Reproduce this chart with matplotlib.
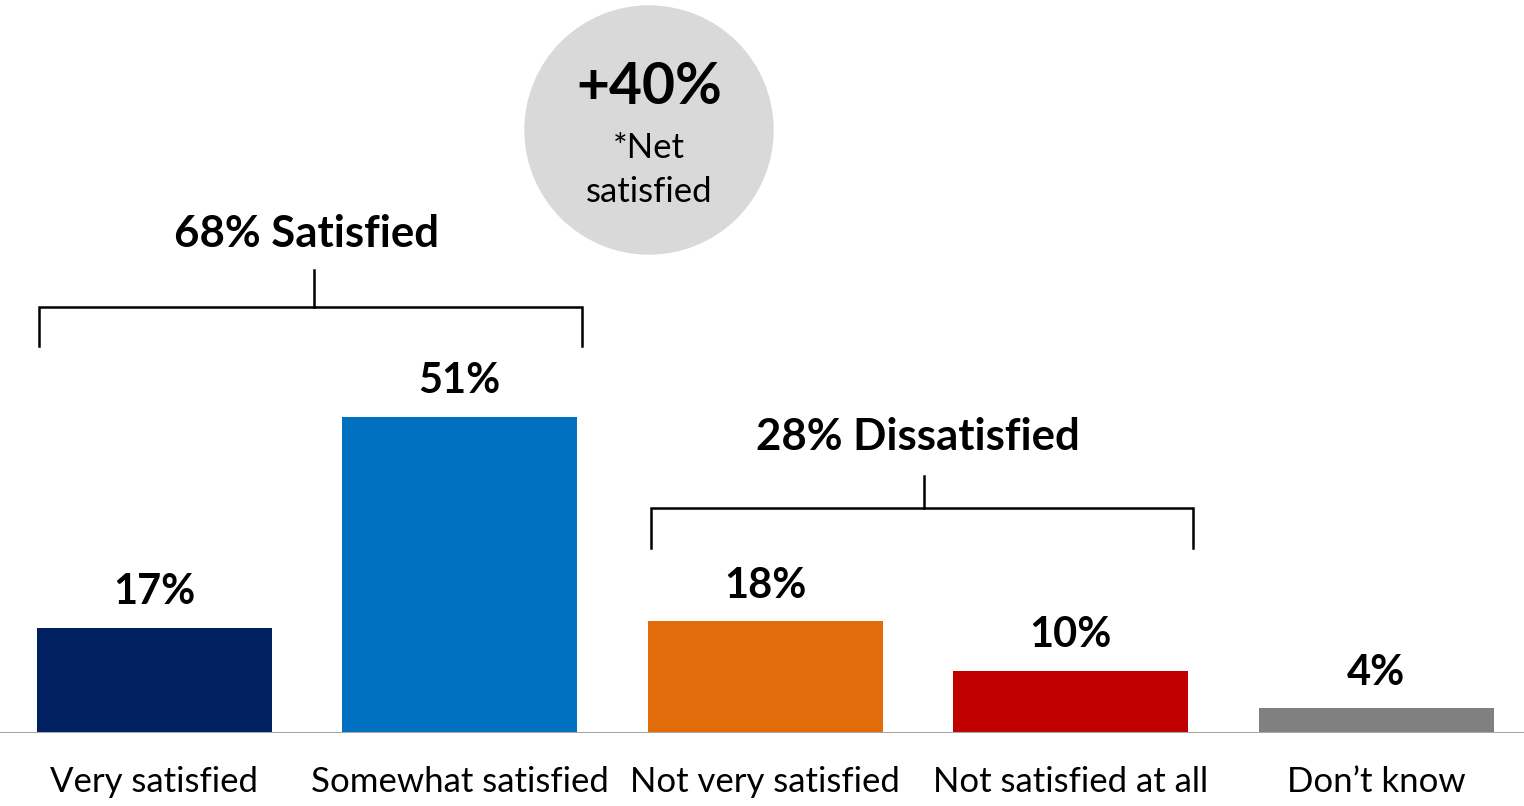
import matplotlib
matplotlib.use("Agg")
import matplotlib.pyplot as plt
from matplotlib.patches import Ellipse

categories = ["Very satisfied", "Somewhat satisfied", "Not very satisfied", "Not satisfied at all", "Don\u2019t know"]
values = [17, 51, 18, 10, 4]
value_labels = ["17%", "51%", "18%", "10%", "4%"]
colors = ["#002060", "#0070C0", "#E36C0A", "#C00000", "#808080"]
satisfied_label = "68% Satisfied"
dissatisfied_label = "28% Dissatisfied"
net_value = "+40%"
net_text = "*Net\nsatisfied"

plt.rcParams['font.family'] = ['Lato', 'DejaVu Sans']

W, H = 1524, 806
fig = plt.figure(figsize=(W/100, H/100), dpi=100)
base_px = 733
ax = fig.add_axes([0, (H - base_px)/H, 1, base_px/H])
ppu = 6.2  # px per percent
step = 305.5
x0 = 154
ax.set_xlim(-x0/step, (W - x0)/step)
ax.set_ylim(0, base_px/ppu)
ax.axis('off')

def px2x(px):
    return (px - x0)/step

def py2y(py):
    return (base_px - py)/ppu

xs = list(range(len(categories)))
ax.bar(xs, values, width=235/step, color=colors, zorder=2)
ax.axhline(0, color="#A6A6A6", lw=1.5, zorder=3)

for x, v, lab in zip(xs, values, value_labels):
    ax.text(x, v + 3.8, lab, ha='center', va='baseline', fontsize=30, fontweight='bold', color='black')

for x, c in zip(xs, categories):
    ax.text(x, py2y(782), c, ha='center', va='center', fontsize=25, color='black', clip_on=False)

def bracket(xl, xr, yh, ye, yt, xc):
    ax.plot([px2x(xl), px2x(xl), px2x(xr), px2x(xr)], [py2y(ye), py2y(yh), py2y(yh), py2y(ye)],
            color='black', lw=1.8, solid_joinstyle='miter')
    ax.plot([px2x(xc), px2x(xc)], [py2y(yh), py2y(yt)], color='black', lw=1.8)

bracket(39, 582, 307, 346, 270, 314)
bracket(651, 1193, 508, 548, 476, 924)
ax.text(px2x(306), py2y(234), satisfied_label, ha='center', va='center', fontsize=31.5, fontweight='bold')
ax.text(px2x(918), py2y(437), dissatisfied_label, ha='center', va='center', fontsize=31.5, fontweight='bold')

ax.add_patch(Ellipse((px2x(649), py2y(130)), 248/step, 248/ppu, color='#D9D9D9', zorder=1, clip_on=False))
ax.text(px2x(649), py2y(88), net_value, ha='center', va='center', fontsize=41, fontweight='bold')
ax.text(px2x(649), py2y(170), net_text, ha='center', va='center', fontsize=25, linespacing=1.5)

fig.savefig("out.png", dpi=100)
